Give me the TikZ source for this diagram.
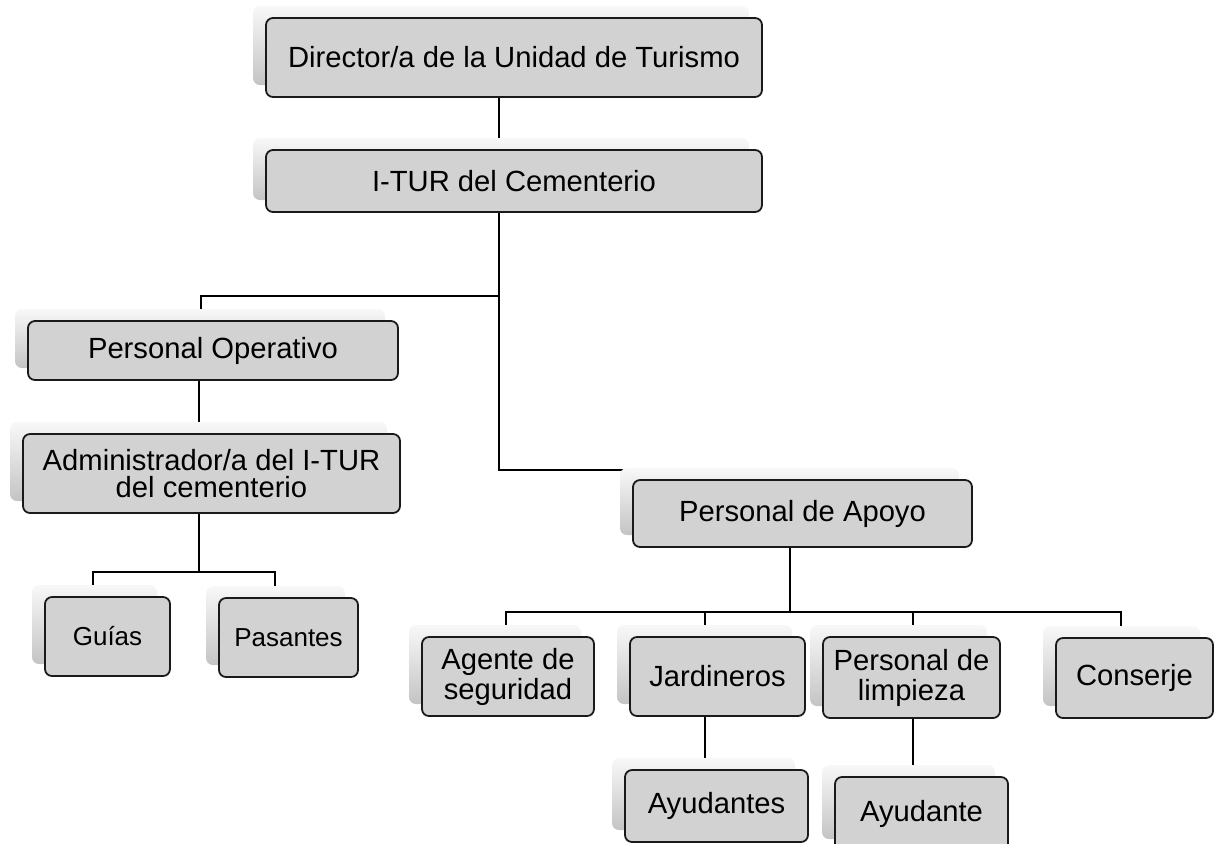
\documentclass[tikz,border=0pt]{standalone}
\usepackage{fontspec}
\setmainfont{Liberation Sans}
\usetikzlibrary{shadows, backgrounds}
\definecolor{Ink}{HTML}{1A1A1A}
\definecolor{BoxFill}{HTML}{D2D2D2}
\definecolor{ShadeDark}{HTML}{C4C4C4}
\definecolor{ShadeLight}{HTML}{F8F8F8}
\newcommand{\boxfont}{\fontsize{14.6}{15}\selectfont}
\newcommand{\smallboxfont}{\fontsize{13}{15}\selectfont}

\begin{document}
\begin{tikzpicture}[
    x=0.5pt, y=-0.5pt,
    unit/.style={rectangle, rounded corners=3.5pt, draw=Ink, line width=0.9pt, fill=BoxFill,
        align=center, inner sep=0pt, font=\boxfont, text=black,
        general shadow={top color=ShadeLight, bottom color=ShadeDark, draw=none,
            shadow xshift=-6.5pt, shadow yshift=6pt}},
    smallunit/.style={unit, font=\smallboxfont},
    link/.style={line width=0.9pt, color=black}
]
    \useasboundingbox (0,0) rectangle (1224,843);

    % upper levels
    \node[unit, minimum width=248pt, minimum height=39.5pt] (director) at (514,57.5) {Director/a de la Unidad de Turismo};
    \node[unit, minimum width=248pt, minimum height=31pt] (itur) at (514,181) {I-TUR del Cementerio};

    % operative branch
    \node[unit, minimum width=185pt, minimum height=29.5pt] (operativo) at (213,350.5) {Personal Operativo};
    \node[unit, minimum width=188.5pt, minimum height=39.5pt] (admin) at (211.5,473.5) {Administrador/a del I-TUR\\[-1.6pt]del cementerio};
    \node[smallunit, minimum width=62.5pt, minimum height=39.5pt] (guias) at (107.5,636.5) {Guías};
    \node[smallunit, minimum width=69.5pt, minimum height=39.5pt] (pasantes) at (288.5,637.5) {Pasantes};

    % support branch
    \node[unit, minimum width=169.5pt, minimum height=33.5pt] (apoyo) at (802.5,513.5) {Personal de Apoyo};
    \node[unit, minimum width=86pt, minimum height=39.5pt] (agente) at (508,676.5) {Agente de\\seguridad};
    \node[unit, minimum width=87.5pt, minimum height=39.5pt] (jardineros) at (717.5,676.5) {Jardineros};
    \node[unit, minimum width=88.5pt, minimum height=40.5pt] (limpieza) at (911.5,677.5) {Personal de\\limpieza};
    \node[unit, minimum width=78.5pt, minimum height=40pt] (conserje) at (1134.5,678) {Conserje};
    \node[unit, minimum width=91.5pt, minimum height=36pt] (ayudantes) at (716.5,806) {Ayudantes};
    \node[unit, minimum width=86.5pt, minimum height=37pt] (ayudante) at (921.5,814) {Ayudante};

    \coordinate (trunk) at (499,296);
    \coordinate (bend) at (499,470);
    \coordinate (opsplit) at (199,572);
    \coordinate (apsplit) at (790,612);

    \begin{scope}[on background layer]
        \draw[link] (director.south -| trunk) -- (itur.north -| trunk);
        \draw[link] (itur.south -| trunk) -- (trunk) -| (201,0 |- operativo.north);
        \draw[link] (trunk) -- (bend) -| (790,0 |- apoyo.north);
        \draw[link] (199,0 |- operativo.south) -- (199,0 |- admin.north);
        \draw[link] (admin.south -| opsplit) -- (opsplit);
        \draw[link] (93,0 |- guias.north) |- (opsplit) -| (275,0 |- pasantes.north);
        \draw[link] (apoyo.south -| apsplit) -- (apsplit);
        \draw[link] (506,0 |- agente.north) |- (apsplit) -| (1121,0 |- conserje.north);
        \draw[link] (705,0 |- apsplit) -- (705,0 |- jardineros.north);
        \draw[link] (913,0 |- apsplit) -- (913,0 |- limpieza.north);
        \draw[link] (705,0 |- jardineros.south) -- (705,0 |- ayudantes.north);
        \draw[link] (913,0 |- limpieza.south) -- (913,0 |- ayudante.north);
    \end{scope}
\end{tikzpicture}
\end{document}
